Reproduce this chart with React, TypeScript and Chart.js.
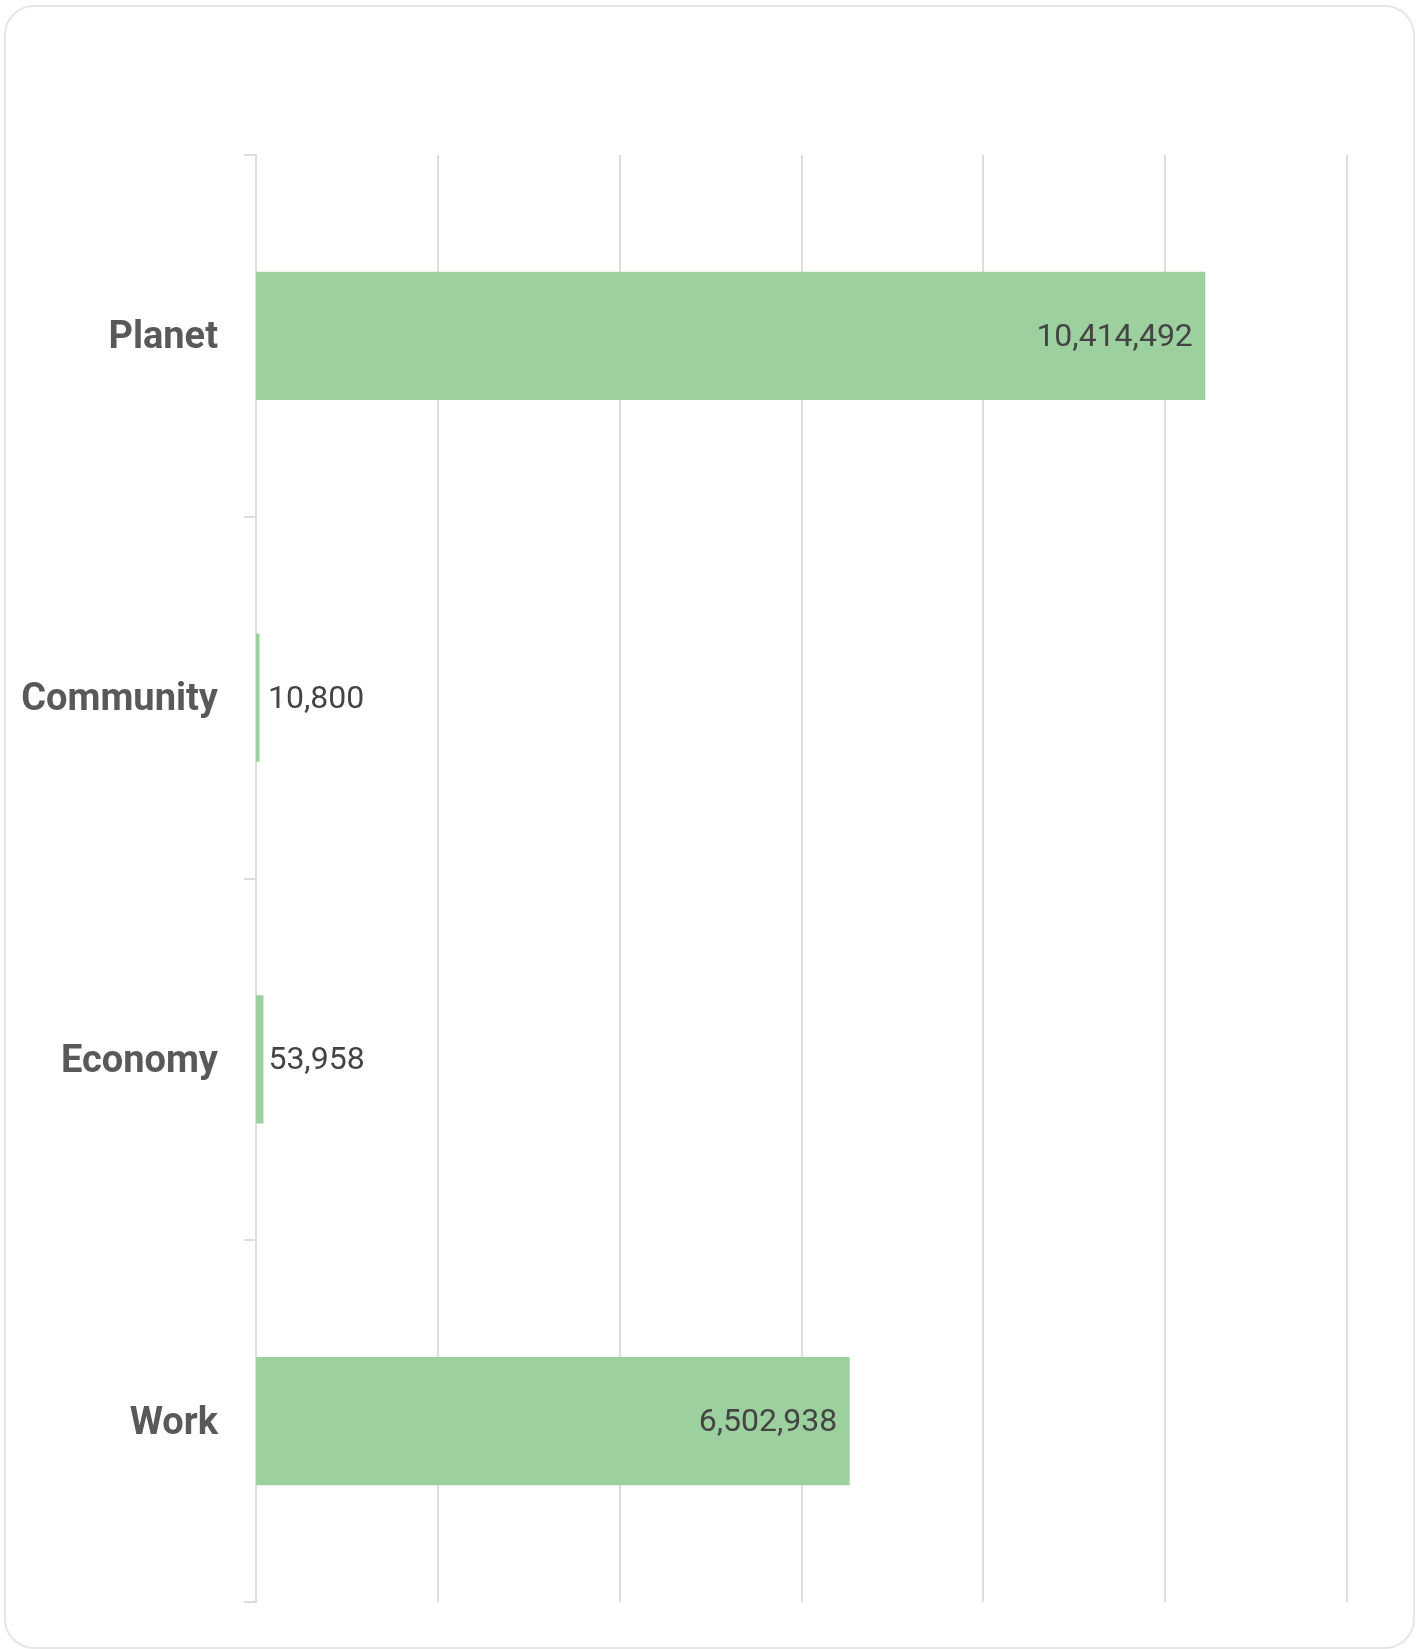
import React, { useEffect, useRef } from "react";
import { Chart, registerables } from "chart.js";

Chart.register(...registerables);

const categories: string[] = ["Planet", "Community", "Economy", "Work"];
const values: number[] = [10414492, 10800, 53958, 6502938];
const xMax = 12000000;
const xStep = 2000000;

const BAR_COLOR = "#9dd09f";
const LABEL_COLOR = "#444444";
const CAT_COLOR = "#595959";
const GRID_COLOR = "#dddddd";
const INFLATE = 2.5;

const valueLabels = {
  id: "valueLabels",
  afterDatasetsDraw(chart: any) {
    const ctx = chart.ctx;
    const meta = chart.getDatasetMeta(0);
    const xScale = chart.scales.x;
    const base = xScale.getPixelForValue(0);
    ctx.save();
    ctx.font = "32px Roboto";
    ctx.textBaseline = "middle";
    meta.data.forEach((bar: any, i: number) => {
      const v = values[i];
      const text = v.toLocaleString("en-US");
      const w = ctx.measureText(text).width;
      const end = bar.x + INFLATE;
      const barLen = end - base;
      const y = bar.y + 2;
      ctx.fillStyle = LABEL_COLOR;
      if (barLen > w + 24) {
        ctx.textAlign = "right";
        ctx.fillText(text, end - 12.5, y);
      } else {
        ctx.textAlign = "left";
        ctx.fillText(text, Math.max(end + 5, base + 12), y);
      }
    });
    ctx.restore();
  },
};

export default function App() {
  const ref = useRef<HTMLCanvasElement | null>(null);

  useEffect(() => {
    if (!ref.current) return;
    const chart = new Chart(ref.current, {
      type: "bar",
      data: {
        labels: categories,
        datasets: [
          {
            data: values,
            backgroundColor: BAR_COLOR,
            borderWidth: 0,
            barPercentage: 0.3411,
            categoryPercentage: 1,
            inflateAmount: INFLATE,
            clip: 0,
          },
        ],
      },
      options: {
        indexAxis: "y",
        animation: false,
        responsive: true,
        maintainAspectRatio: false,
        devicePixelRatio: 1,
        layout: { padding: { top: 148, right: 66, bottom: 45, left: 0 } },
        plugins: {
          legend: { display: false },
          tooltip: { enabled: false },
          title: { display: false },
        },
        scales: {
          x: {
            type: "linear",
            min: 0,
            max: xMax,
            ticks: { display: false, stepSize: xStep },
            grid: {
              color: GRID_COLOR,
              lineWidth: 2,
              drawTicks: false,
            },
            border: { display: false },
            afterFit(scale: any) {
              scale.height = 0;
              scale.paddingLeft = 0;
              scale.paddingRight = 0;
            },
          },
          y: {
            type: "category",
            offset: true,
            z: 1,
            grid: {
              offset: true,
              drawOnChartArea: false,
              drawTicks: true,
              tickLength: 12,
              color: GRID_COLOR,
              lineWidth: 2,
            },
            border: { display: true, color: GRID_COLOR, width: 2 },
            ticks: {
              color: CAT_COLOR,
              padding: 26,
              labelOffset: 3,
              font: { family: "Roboto", size: 38, weight: "bold" },
            },
            afterFit(scale: any) {
              scale.width = 250;
              scale.paddingTop = 0;
              scale.paddingBottom = 0;
            },
          },
        },
      },
      plugins: [valueLabels],
    } as any);
    return () => chart.destroy();
  }, []);

  return (
    <div
      style={{
        position: "absolute",
        left: 4,
        top: 5,
        width: 1411,
        height: 1644,
        boxSizing: "border-box",
        border: "2px solid #e6e6e6",
        borderRadius: 30,
        background: "#ffffff",
        overflow: "hidden",
      }}
    >
      <div style={{ position: "relative", width: 1407, height: 1640 }}>
        <canvas ref={ref} />
      </div>
    </div>
  );
}
